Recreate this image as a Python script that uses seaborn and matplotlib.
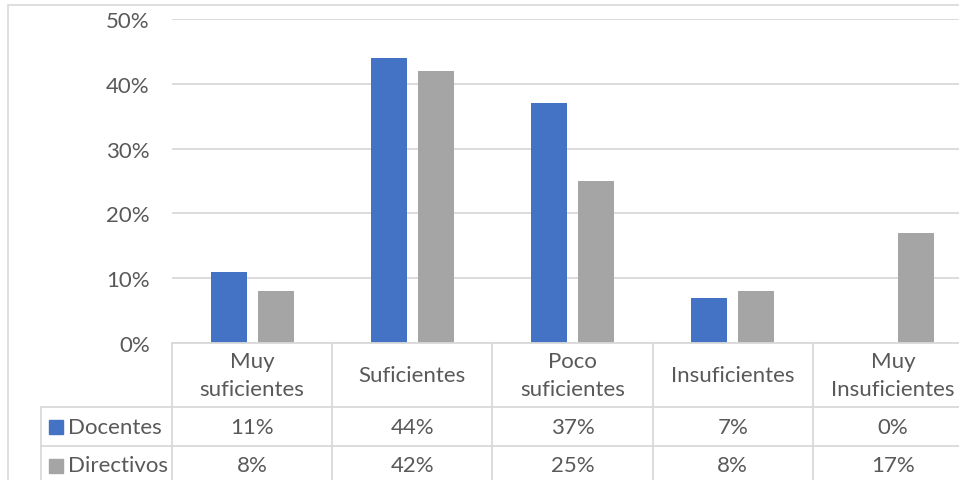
import matplotlib
matplotlib.use('Agg')
import matplotlib.pyplot as plt
import matplotlib.transforms as mtransforms
from matplotlib.patches import Rectangle
from matplotlib.ticker import PercentFormatter
import pandas as pd
import seaborn as sns

categorias = ['Muy\nsuficientes', 'Suficientes', 'Poco\nsuficientes', 'Insuficientes', 'Muy\nInsuficientes']
series = ['Docentes', 'Directivos']
docentes = [11, 44, 37, 7, 0]
directivos = [8, 42, 25, 8, 17]
colores = ['#4472C4', '#A5A5A5']

TXT = '#595959'
LINEA = '#d9d9d9'
W, H = 959, 481
FS = 16

df = pd.DataFrame({
    'categoria': categorias * 2,
    'serie': [series[0]] * 5 + [series[1]] * 5,
    'valor': [v / 100 for v in docentes + directivos],
})

sns.set_style('white')
plt.rcParams['font.family'] = ['Lato', 'DejaVu Sans']

fig = plt.figure(figsize=(W / 100, H / 100), dpi=100)
fig.patch.set_facecolor('white')
# marco del grafico (se corta por la derecha y abajo)
fig.patches.append(Rectangle((8 / W, -0.5), 2, 1.5 - 6 / H, transform=fig.transFigure,
                             fill=False, edgecolor=LINEA, lw=1.2))

ax = fig.add_axes([172 / W, 1 - 344 / H, 801 / W, 324 / H])
sns.barplot(data=df, x='categoria', y='valor', hue='serie', palette=colores,
            width=0.5875, gap=0.234, saturation=1, errorbar=None, legend=False,
            linewidth=0, ax=ax)

ax.set_ylim(0, 0.5)
ax.set_xlim(-0.5, len(categorias) - 0.5)
ax.set_yticks([0, 0.1, 0.2, 0.3, 0.4, 0.5])
ax.yaxis.set_major_formatter(PercentFormatter(1.0, decimals=0))
ax.tick_params(axis='y', length=0, pad=16, labelsize=FS, labelcolor=TXT)
ax.tick_params(axis='x', length=0, labelbottom=False)
ax.set_xlabel('')
ax.set_ylabel('')
ax.yaxis.grid(True, color=LINEA, lw=1.3)
ax.set_axisbelow(True)
for s in ax.spines.values():
    s.set_visible(False)

# tabla de datos
blend = mtransforms.blended_transform_factory(ax.transData, ax.transAxes)
x_izq = (41 - 172) / 801
y_fila = [0, -(408 - 344) / 324, -(447 - 344) / 324, -(486 - 344) / 324]
kw = dict(color=LINEA, lw=1.3, clip_on=False)
ax.plot([0, 1], [0, 0], transform=ax.transAxes, **kw)
for y in y_fila[1:]:
    ax.plot([x_izq, 1], [y, y], transform=ax.transAxes, **kw)
for i in range(len(categorias) + 1):
    ax.plot([i - 0.5, i - 0.5], [0, y_fila[-1]], transform=blend, **kw)
ax.plot([x_izq, x_izq], [y_fila[1], y_fila[-1]], transform=ax.transAxes, **kw)

for i, cat in enumerate(categorias):
    ax.text(i, (y_fila[0] + y_fila[1]) / 2, cat, transform=blend, ha='center', va='center',
            fontsize=FS, color=TXT, linespacing=1.45)
    for r, vals in enumerate([docentes, directivos]):
        ax.text(i, (y_fila[r + 1] + y_fila[r + 2]) / 2, f'{vals[i]}%', transform=blend,
                ha='center', va='center', fontsize=FS, color=TXT)

for r, (nombre, col) in enumerate(zip(series, colores)):
    yc = (y_fila[r + 1] + y_fila[r + 2]) / 2
    ax.plot([(56 - 172) / 801], [yc], marker='s', markersize=9.4, color=col,
            transform=ax.transAxes, clip_on=False)
    ax.text((68 - 172) / 801, yc, nombre, transform=ax.transAxes, ha='left', va='center',
            fontsize=FS, color=TXT)

plt.savefig('out.png', dpi=100)
plt.close()
